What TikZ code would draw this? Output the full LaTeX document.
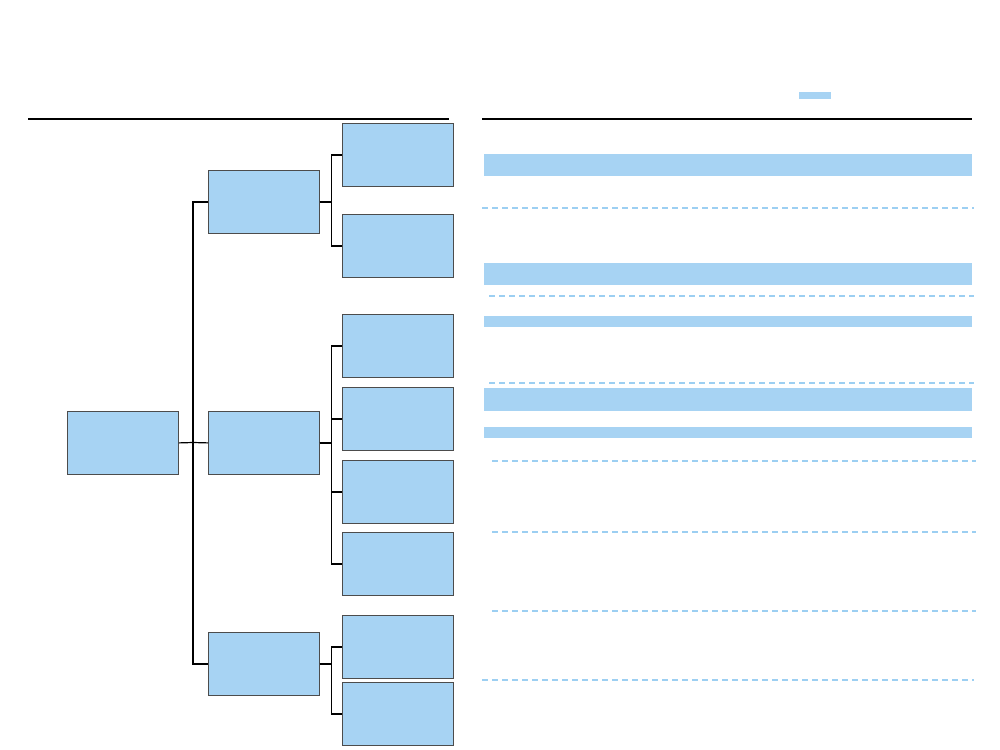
\documentclass[tikz,border=0pt]{standalone}
\begin{document}
\begin{tikzpicture}[x=0.75pt,y=-0.75pt,
  box/.style={draw=black!70,line width=0.6pt,fill=boxblue,minimum width=111*0.75pt,minimum height=63*0.75pt,inner sep=0pt,anchor=north west},
  bar/.style={fill=boxblue,draw=none},
  conn/.style={draw=black,line width=0.9pt},
  dashline/.style={draw=dashblue,line width=0.8pt,dash pattern=on 4.5pt off 3pt},
  rule/.style={draw=black,line width=1.1pt}]
\definecolor{boxblue}{HTML}{A7D3F3}
\definecolor{dashblue}{HTML}{9CCFF2}
\useasboundingbox (0,0) rectangle (1000,750);
% rules
\draw[rule] (28,119) -- (449,119);
\draw[rule] (482,119) -- (972,119);
\fill[boxblue] (799,92) rectangle (831,99);
% bars
\fill[bar] (484,154) rectangle (972,176);
\fill[bar] (484,263) rectangle (972,285);
\fill[bar] (484,316) rectangle (972,327);
\fill[bar] (484,388) rectangle (972,411);
\fill[bar] (484,427) rectangle (972,438);
% dashed lines
\draw[dashline] (482,208) -- (974,208);
\draw[dashline] (489,296) -- (974,296);
\draw[dashline] (489,383) -- (974,383);
\draw[dashline] (492,461) -- (976,461);
\draw[dashline] (492,532) -- (976,532);
\draw[dashline] (492,611) -- (976,611);
\draw[dashline] (482,680) -- (974,680);
% tree nodes
\node[box] (r) at (67,411) {};
\node[box] (a) at (208,170) {};
\node[box] (b) at (208,411) {};
\node[box] (c) at (208,632) {};
\node[box] (a1) at (342,123) {};
\node[box] (a2) at (342,214) {};
\node[box] (b1) at (342,314) {};
\node[box] (b2) at (342,387) {};
\node[box] (b3) at (342,460) {};
\node[box] (b4) at (342,532) {};
\node[box] (c1) at (342,615) {};
\node[box] (c2) at (342,682) {};
% connectors
\coordinate (t) at (193,442.5);
\draw[conn] (r.east) -- (t);
\draw[conn] (a.west) -| (t) |- (c.west);
\draw[conn] (t) -- (b.west);
\foreach \p/\k in {a/a1,a/a2,b/b1,b/b2,b/b3,b/b4,c/c1,c/c2}{
  \draw[conn] (\p.east) -- ++(12,0) |- (\k.west);
}
\end{tikzpicture}
\end{document}
